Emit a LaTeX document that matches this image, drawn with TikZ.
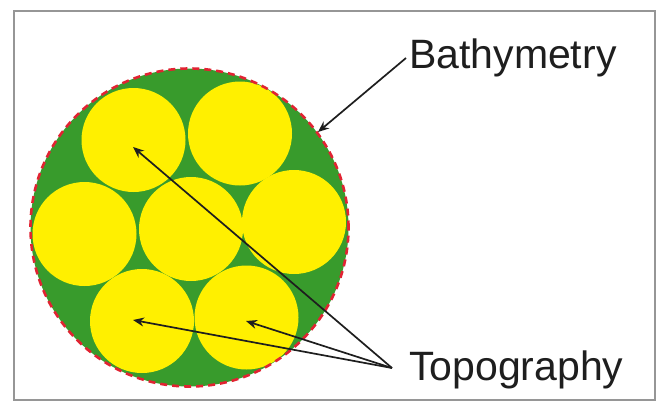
\documentclass[tikz,border=0pt]{standalone}
\usepackage{fontspec}
\setmainfont{Liberation Sans}
\usetikzlibrary{arrows.meta}
\definecolor{seagreen}{RGB}{56,155,44}
\definecolor{sunyellow}{RGB}{255,240,0}
\definecolor{edgered}{RGB}{225,35,50}
\definecolor{framegray}{RGB}{150,150,150}
\definecolor{inkgray}{RGB}{30,30,30}
\tikzset{
  disk/.style={circle, fill=sunyellow, draw=none, minimum size=104pt, inner sep=0pt},
  label text/.style={font=\fontsize{41}{49}\selectfont, text=inkgray, inner sep=0pt},
  pointer/.style={draw=inkgray, line width=1.7pt, -{Stealth[length=11pt,width=9pt]}},
}
\begin{document}
\begin{tikzpicture}[x=1pt,y=-1pt]
\useasboundingbox (0,0) rectangle (661,402);
\fill[white] (0,0) rectangle (661,402);
\draw[framegray, line width=1.2pt] (14,11) rectangle (655,400);
% big green disk
\node[circle, fill=seagreen, minimum size=318pt, inner sep=0pt] (big) at (189.5,227.5) {};
% yellow disks
\node[disk] (c1) at (133.5,140) {};
\node[disk] (c2) at (240,133.5) {};
\node[disk] (c3) at (84.5,234) {};
\node[disk] (c4) at (191,229) {};
\node[disk] (c5) at (294,222) {};
\node[disk] (c6) at (142,321) {};
\node[disk] (c7) at (246.5,317.5) {};
% dashed red outline
\draw[edgered, line width=2.6pt, dash pattern=on 7pt off 5pt] (big.center) circle[radius=159pt];
% labels
\node[label text, anchor=base west] (bath) at (409,68) {Bathymetry};
\node[label text, anchor=base west] (topo) at (409,380) {Topography};
% arrow ends
\coordinate (bt) at (406,58);
\coordinate (bz) at (318,132);
\coordinate (tt) at (392,368);
\coordinate (t1) at (133,147);
\coordinate (t6) at (133,320);
\coordinate (t7) at (246,321);
\draw[pointer] (bt) -- (bz);
\draw[pointer] (tt) -- (t1);
\draw[pointer] (tt) -- (t6);
\draw[pointer] (tt) -- (t7);
\end{tikzpicture}
\end{document}
